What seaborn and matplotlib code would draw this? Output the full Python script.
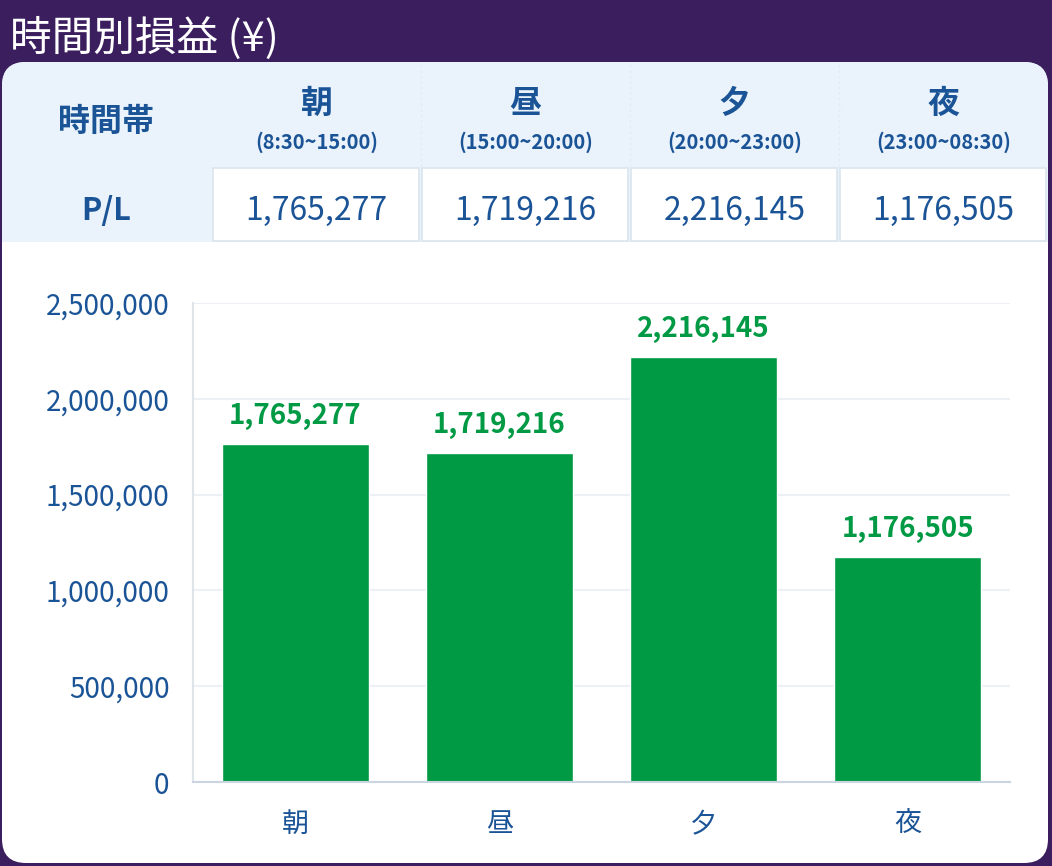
import matplotlib
matplotlib.use("Agg")
import matplotlib.pyplot as plt
import matplotlib.patches as mpatches
import seaborn as sns
import pandas as pd

# data
periods = ["朝", "昼", "夕", "夜"]
period_hours = ["(8:30~15:00)", "(15:00~20:00)", "(20:00~23:00)", "(23:00~08:30)"]
pl_values = [1765277, 1719216, 2216145, 1176505]
y_ticks = [0, 500000, 1000000, 1500000, 2000000, 2500000]

title = "時間別損益 (¥)"

PURPLE = "#3b1e5e"
LIGHT = "#eaf3fb"
NAVY = "#1b5496"
GREEN = "#009944"
GRID = "#edf1f5"

sns.set_style("white")
plt.rcParams["font.family"] = ["Noto Sans CJK JP", "DejaVu Sans"]

W, H = 1052, 866
fig = plt.figure(figsize=(W / 100, H / 100), dpi=100, facecolor=PURPLE)

# pixel-space background axes for card + table
bg = fig.add_axes([0, 0, 1, 1])
bg.set_xlim(0, W)
bg.set_ylim(H, 0)
bg.axis("off")

bg.text(10, 38, title, color="white", fontsize=30, va="center", ha="left")

card = mpatches.FancyBboxPatch((2, 62), 1046, 801, boxstyle="round,pad=0,rounding_size=24",
                               fc="white", ec="none")
bg.add_patch(card)
head = mpatches.FancyBboxPatch((2, 62), 1046, 240, boxstyle="round,pad=0,rounding_size=24",
                               fc=LIGHT, ec="none")
bg.add_patch(head)
bg.add_patch(mpatches.Rectangle((2, 242), 1046, 90, fc="white", ec="none"))

# table
col0_w = 212
col_w = 209
bg.text(col0_w / 2, 122, "時間帯", color=NAVY, fontsize=23, fontweight="bold", ha="center", va="center")
bg.text(col0_w / 2, 211, "P/L", color=NAVY, fontsize=22, fontweight="bold", ha="center", va="center")
for i, (p, hrs, v) in enumerate(zip(periods, period_hours, pl_values)):
    x0 = col0_w + i * col_w
    cx = x0 + col_w / 2
    if i > 0:
        bg.plot([x0, x0], [64, 166], color="#e3ebf3", lw=1, ls=(0, (2, 2)))
    bg.text(cx, 104, p, color=NAVY, fontsize=23, fontweight="bold", ha="center", va="center")
    bg.text(cx, 142, hrs, color=NAVY, fontsize=14.5, fontweight="bold", ha="center", va="center")
    bg.add_patch(mpatches.Rectangle((x0 + 1, 168), col_w - 3, 73, fc="white", ec="#dbe5ee", lw=1.2))
    bg.text(cx, 211, f"{v:,}", color=NAVY, fontsize=23, ha="center", va="center")

# chart
ax = fig.add_axes([193 / W, 1 - 782 / H, 817 / W, 479 / H])
ax.set_facecolor("none")
df = pd.DataFrame({"period": periods, "pl": pl_values})
sns.barplot(data=df, x="period", y="pl", color=GREEN, saturation=1, width=0.72, ax=ax)
ax.set_xlim(-0.5, 3.5)
ax.set_ylim(0, 2500000)
ax.set_yticks(y_ticks)
ax.set_yticklabels([f"{t:,}" for t in y_ticks])
ax.set_xlabel("")
ax.set_ylabel("")
ax.yaxis.grid(True, color=GRID, lw=1.5)
ax.set_axisbelow(True)
for s in ["top", "right"]:
    ax.spines[s].set_visible(False)
ax.spines["left"].set_color("#dde5ea")
ax.spines["left"].set_linewidth(1.5)
ax.spines["bottom"].set_color("#cbd5e1")
ax.spines["bottom"].set_linewidth(1.5)
ax.tick_params(axis="y", length=9, width=1.5, color=GRID, labelsize=20, labelcolor=NAVY, pad=8)
ax.tick_params(axis="x", length=0, labelsize=19.5, labelcolor=NAVY, pad=21)

ax.bar_label(ax.containers[0], labels=[f"{v:,}" for v in pl_values], padding=10,
             color=GREEN, fontsize=20, fontweight="bold")

fig.savefig("out.png", dpi=100, facecolor=PURPLE)
